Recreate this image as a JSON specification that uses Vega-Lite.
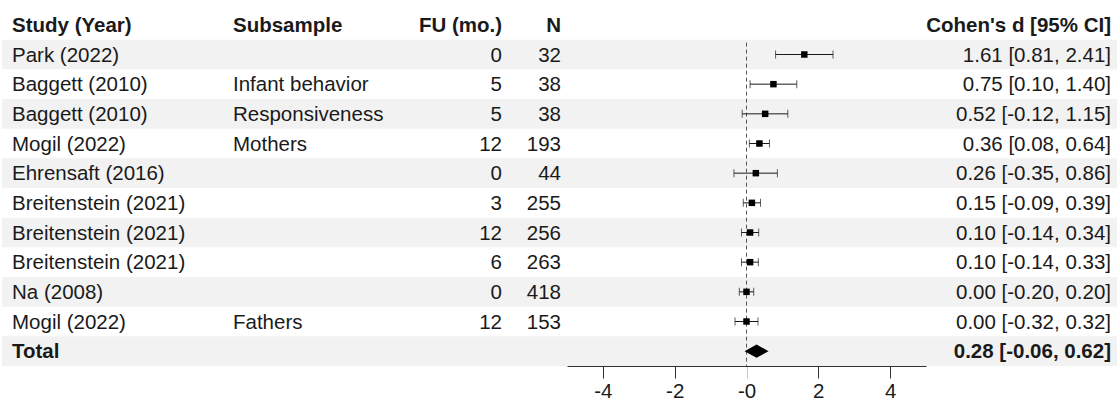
{
  "$schema": "https://vega.github.io/schema/vega-lite/v6.json",
  "background": "white",
  "padding": {"left": 0, "top": 10, "right": 0, "bottom": 0},
  "spacing": 0,
  "bounds": "flush",
  "config": {
    "view": {"stroke": null},
    "font": "Liberation Sans",
    "text": {"font": "Liberation Sans", "fontSize": 20.5, "color": "#1a1a1a", "baseline": "middle", "dy": 1}
  },
  "datasets": {
    "studies": [
      {"row": 1, "study": "Park (2022)", "subsample": null, "fu": 0, "n": 32, "d": 1.61, "lo": 0.81, "hi": 2.41},
      {"row": 2, "study": "Baggett (2010)", "subsample": "Infant behavior", "fu": 5, "n": 38, "d": 0.75, "lo": 0.10, "hi": 1.40},
      {"row": 3, "study": "Baggett (2010)", "subsample": "Responsiveness", "fu": 5, "n": 38, "d": 0.52, "lo": -0.12, "hi": 1.15},
      {"row": 4, "study": "Mogil (2022)", "subsample": "Mothers", "fu": 12, "n": 193, "d": 0.36, "lo": 0.08, "hi": 0.64},
      {"row": 5, "study": "Ehrensaft (2016)", "subsample": null, "fu": 0, "n": 44, "d": 0.26, "lo": -0.35, "hi": 0.86},
      {"row": 6, "study": "Breitenstein (2021)", "subsample": null, "fu": 3, "n": 255, "d": 0.15, "lo": -0.09, "hi": 0.39},
      {"row": 7, "study": "Breitenstein (2021)", "subsample": null, "fu": 12, "n": 256, "d": 0.10, "lo": -0.14, "hi": 0.34},
      {"row": 8, "study": "Breitenstein (2021)", "subsample": null, "fu": 6, "n": 263, "d": 0.10, "lo": -0.14, "hi": 0.33},
      {"row": 9, "study": "Na (2008)", "subsample": null, "fu": 0, "n": 418, "d": 0.00, "lo": -0.20, "hi": 0.20},
      {"row": 10, "study": "Mogil (2022)", "subsample": "Fathers", "fu": 12, "n": 153, "d": 0.00, "lo": -0.32, "hi": 0.32},
      {"row": 11, "study": "Total", "subsample": null, "fu": null, "n": null, "d": 0.28, "lo": -0.06, "hi": 0.62}
    ]
  },
  "hconcat": [
    {
      "width": 567,
      "height": 356,
      "data": {"name": "studies"},
      "encoding": {
        "y": {"field": "row", "type": "ordinal", "scale": {"domain": [0, 1, 2, 3, 4, 5, 6, 7, 8, 9, 10, 11], "paddingInner": 0, "paddingOuter": 0}, "axis": null}
      },
      "layer": [
        {
          "transform": [{"filter": "datum.row % 2 === 1"}],
          "mark": {"type": "rect", "color": "#f2f2f2"},
          "encoding": {"x": {"value": 2}, "x2": {"value": "width"}}
        },
        {
          "data": {"values": [{"h": "Study (Year)"}]},
          "mark": {"type": "text", "align": "left", "x": 12, "fontWeight": "bold"},
          "encoding": {"y": {"datum": 0, "type": "ordinal"}, "text": {"field": "h"}}
        },
        {
          "data": {"values": [{"h": "Subsample"}]},
          "mark": {"type": "text", "align": "left", "x": 233, "fontWeight": "bold"},
          "encoding": {"y": {"datum": 0, "type": "ordinal"}, "text": {"field": "h"}}
        },
        {
          "data": {"values": [{"h": "FU (mo.)"}]},
          "mark": {"type": "text", "align": "right", "x": 502, "fontWeight": "bold"},
          "encoding": {"y": {"datum": 0, "type": "ordinal"}, "text": {"field": "h"}}
        },
        {
          "data": {"values": [{"h": "N"}]},
          "mark": {"type": "text", "align": "right", "x": 561, "fontWeight": "bold"},
          "encoding": {"y": {"datum": 0, "type": "ordinal"}, "text": {"field": "h"}}
        },
        {
          "transform": [{"filter": "datum.study !== 'Total'"}],
          "mark": {"type": "text", "align": "left", "x": 12},
          "encoding": {"text": {"field": "study", "type": "nominal"}}
        },
        {
          "transform": [{"filter": "datum.study === 'Total'"}],
          "mark": {"type": "text", "align": "left", "x": 12, "fontWeight": "bold"},
          "encoding": {"text": {"field": "study", "type": "nominal"}}
        },
        {
          "transform": [{"filter": "isValid(datum.subsample)"}],
          "mark": {"type": "text", "align": "left", "x": 233},
          "encoding": {"text": {"field": "subsample", "type": "nominal"}}
        },
        {
          "transform": [{"filter": "isValid(datum.fu)"}],
          "mark": {"type": "text", "align": "right", "x": 502},
          "encoding": {"text": {"field": "fu", "type": "nominal"}}
        },
        {
          "transform": [{"filter": "isValid(datum.n)"}],
          "mark": {"type": "text", "align": "right", "x": 561},
          "encoding": {"text": {"field": "n", "type": "nominal"}}
        }
      ]
    },
    {
      "width": 359,
      "height": 356,
      "data": {"name": "studies"},
      "encoding": {
        "y": {"field": "row", "type": "ordinal", "scale": {"domain": [0, 1, 2, 3, 4, 5, 6, 7, 8, 9, 10, 11], "paddingInner": 0, "paddingOuter": 0}, "axis": null}
      },
      "layer": [
        {
          "transform": [{"filter": "datum.row % 2 === 1"}],
          "mark": {"type": "rect", "color": "#f2f2f2"},
          "encoding": {"x": {"value": 0}, "x2": {"value": "width"}}
        },
        {
          "data": {"values": [{"ref": 0}]},
          "mark": {"type": "rule", "color": "#555555", "strokeWidth": 1, "strokeDash": [4, 3]},
          "encoding": {
            "x": {"field": "ref", "type": "quantitative"},
            "y": {"datum": 1, "type": "ordinal", "bandPosition": 0.1},
            "y2": {"value": "height"}
          }
        },
        {
          "transform": [{"filter": "datum.study !== 'Total'"}],
          "mark": {"type": "rule", "color": "#1a1a1a", "strokeWidth": 1},
          "encoding": {
            "x": {"field": "lo", "type": "quantitative"},
            "x2": {"field": "hi"}
          }
        },
        {
          "transform": [{"filter": "datum.study !== 'Total'"}],
          "mark": {"type": "tick", "color": "#1a1a1a", "thickness": 1, "size": 8, "orient": "vertical"},
          "encoding": {"x": {"field": "lo", "type": "quantitative"}}
        },
        {
          "transform": [{"filter": "datum.study !== 'Total'"}],
          "mark": {"type": "tick", "color": "#1a1a1a", "thickness": 1, "size": 8, "orient": "vertical"},
          "encoding": {"x": {"field": "hi", "type": "quantitative"}}
        },
        {
          "transform": [{"filter": "datum.study !== 'Total'"}],
          "mark": {"type": "point", "shape": "square", "filled": true, "color": "#000000", "opacity": 1, "size": 42},
          "encoding": {"x": {"field": "d", "type": "quantitative"}}
        },
        {
          "transform": [{"filter": "datum.study === 'Total'"}],
          "mark": {"type": "point", "shape": "M -1 0 L 0 -0.55 L 1 0 L 0 0.55 Z", "filled": true, "color": "#000000", "opacity": 1, "size": 576},
          "encoding": {
            "x": {
              "field": "d",
              "type": "quantitative",
              "scale": {"domain": [-5, 5], "nice": false, "zero": false},
              "axis": {
                "values": [-4, -2, 0, 2, 4],
                "labelExpr": "datum.value === 0 ? '-0' : '' + datum.value",
                "title": null,
                "grid": false,
                "domainColor": "#333333",
                "domainWidth": 1,
                "tickColor": {"condition": {"test": "datum.value === 0", "value": "#c8c8c8"}, "value": "#333333"},
                "tickWidth": 1,
                "tickSize": 12,
                "labelFont": "Liberation Sans",
                "labelFontSize": 20.5,
                "labelColor": "#1a1a1a",
                "labelPadding": 3
              }
            }
          }
        }
      ]
    },
    {
      "width": 193,
      "height": 356,
      "data": {"name": "studies"},
      "transform": [
        {"calculate": "replace(format(datum.d, '.2f'), '\u2212', '-') + ' [' + replace(format(datum.lo, '.2f'), '\u2212', '-') + ', ' + replace(format(datum.hi, '.2f'), '\u2212', '-') + ']'", "as": "ci"}
      ],
      "encoding": {
        "y": {"field": "row", "type": "ordinal", "scale": {"domain": [0, 1, 2, 3, 4, 5, 6, 7, 8, 9, 10, 11], "paddingInner": 0, "paddingOuter": 0}, "axis": null}
      },
      "layer": [
        {
          "transform": [{"filter": "datum.row % 2 === 1"}],
          "mark": {"type": "rect", "color": "#f2f2f2"},
          "encoding": {"x": {"value": 0}, "x2": {"value": 191}}
        },
        {
          "data": {"values": [{"h": "Cohen's d [95% CI]"}]},
          "mark": {"type": "text", "align": "right", "x": 185, "fontWeight": "bold"},
          "encoding": {"y": {"datum": 0, "type": "ordinal"}, "text": {"field": "h"}}
        },
        {
          "transform": [{"filter": "datum.study !== 'Total'"}],
          "mark": {"type": "text", "align": "right", "x": 185},
          "encoding": {"text": {"field": "ci", "type": "nominal"}}
        },
        {
          "transform": [{"filter": "datum.study === 'Total'"}],
          "mark": {"type": "text", "align": "right", "x": 185, "fontWeight": "bold"},
          "encoding": {"text": {"field": "ci", "type": "nominal"}}
        }
      ]
    }
  ]
}
